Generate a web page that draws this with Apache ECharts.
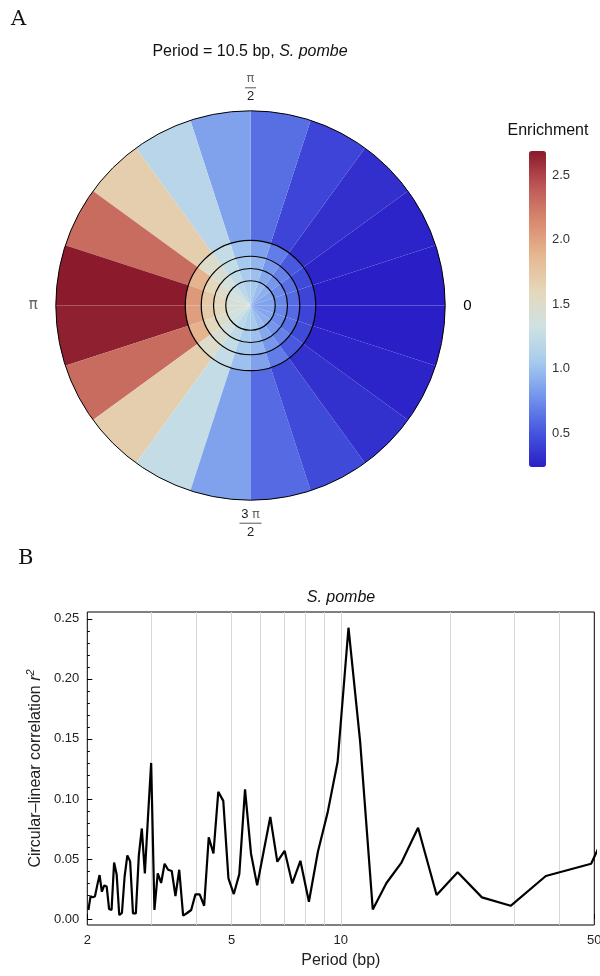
<!DOCTYPE html>
<html>
<head>
<meta charset="utf-8">
<script src="https://cdn.jsdelivr.net/npm/echarts@6/dist/echarts.min.js"></script>
<style>
  html, body { margin: 0; padding: 0; background: #fff; }
  #chart { width: 600px; height: 976px; }
</style>
</head>
<body>
<div id="chart"></div>
<script>
// ---- panel A: enrichment per 18 degree phase bin, counter-clockwise from 0 ----
const phaseBins = ['0-18', '18-36', '36-54', '54-72', '72-90', '90-108', '108-126', '126-144', '144-162', '162-180',
  '180-198', '198-216', '216-234', '234-252', '252-270', '270-288', '288-306', '306-324', '324-342', '342-360'];

// radial bin edges (fraction of outer radius), inner to outer
const ringEdges = [0, 0.127, 0.19, 0.253, 0.335, 1];

const enrichRing1 = [0.85, 0.87, 0.92, 0.98, 1.05, 1.12, 1.2, 1.3, 1.38, 1.42, 1.4, 1.38, 1.3, 1.2, 1.12, 1.05, 0.98, 0.92, 0.87, 0.85];
const enrichRing2 = [0.72, 0.74, 0.8, 0.88, 1.0, 1.08, 1.22, 1.38, 1.5, 1.58, 1.56, 1.5, 1.38, 1.22, 1.08, 1.0, 0.88, 0.8, 0.74, 0.72];
const enrichRing3 = [0.6, 0.62, 0.7, 0.8, 0.95, 1.05, 1.25, 1.45, 1.6, 1.72, 1.7, 1.6, 1.45, 1.25, 1.05, 0.95, 0.8, 0.7, 0.62, 0.6];
const enrichRing4 = [0.42, 0.45, 0.52, 0.68, 0.85, 1.0, 1.25, 1.5, 1.9, 2.05, 2.02, 1.9, 1.5, 1.25, 1.0, 0.85, 0.68, 0.52, 0.45, 0.42];
const enrichOuter = [0.24, 0.26, 0.32, 0.42, 0.62, 0.85, 1.17, 1.68, 2.3, 2.68, 2.66, 2.3, 1.68, 1.25, 0.85, 0.6, 0.45, 0.33, 0.26, 0.24];

const enrichMin = 0.239, enrichMax = 2.686;
const enrichColors = ['#2a1fc6', '#4656df', '#7394ec', '#a7cbee', '#cfe2e3', '#e5d7bb', '#e6b891', '#d98a6e', '#bd5756', '#8a1a2b'];
const barTicks = [0.3, 0.4, 0.5, 0.6, 0.7, 0.8, 0.9, 1.0, 1.1, 1.2, 1.3, 1.4, 1.5, 1.6, 1.7, 1.8, 1.9, 2.0, 2.1, 2.2, 2.3, 2.4, 2.5, 2.6];
const barLabels = [0.5, 1.0, 1.5, 2.0, 2.5];

// ---- panel B: circular-linear correlation vs period ----
const periods = [2.014, 2.042, 2.070, 2.100, 2.130, 2.162, 2.194, 2.227, 2.262, 2.297, 2.333, 2.371, 2.410, 2.450,
  2.492, 2.534, 2.579, 2.625, 2.673, 2.722, 2.774, 2.827, 2.882, 2.940, 3.000, 3.063, 3.128, 3.196, 3.267, 3.341,
  3.419, 3.500, 3.585, 3.675, 3.769, 3.868, 3.973, 4.083, 4.200, 4.324, 4.455, 4.594, 4.742, 4.900, 5.069, 5.250,
  5.444, 5.654, 5.880, 6.125, 6.391, 6.682, 7.000, 7.350, 7.737, 8.167, 8.647, 9.188, 9.800, 10.500, 11.308,
  12.250, 13.364, 14.700, 16.333, 18.375, 21.000, 24.500, 29.400, 36.750, 49.000, 73.500];
const corrR2 = [0.0075, 0.019, 0.018, 0.019, 0.028, 0.0366, 0.0227, 0.028, 0.027, 0.0083, 0.0075, 0.047, 0.037, 0.0033,
  0.005, 0.035, 0.053, 0.048, 0.0047, 0.0047, 0.053, 0.0754, 0.038, 0.085, 0.130, 0.0075, 0.038, 0.030, 0.046, 0.041,
  0.040, 0.019, 0.041, 0.0028, 0.005, 0.0075, 0.0205, 0.0205, 0.011, 0.068, 0.0546, 0.106, 0.0984, 0.0338, 0.0208, 0.0374,
  0.108, 0.0546, 0.028, 0.056, 0.085, 0.0477, 0.0568, 0.0296, 0.0485, 0.0144, 0.056, 0.088, 0.131, 0.2426, 0.1475,
  0.008, 0.030, 0.047, 0.076, 0.020, 0.039, 0.018, 0.011, 0.0358, 0.046, 0.16];
const periodGridLines = [3, 4, 5, 6, 7, 8, 9, 10, 20, 30, 40];
const periodLabels = [2, 5, 10, 50];
const r2Labels = [0, 0.05, 0.1, 0.15, 0.2, 0.25];
const r2Minor = [0, 0.01, 0.02, 0.03, 0.04, 0.05, 0.06, 0.07, 0.08, 0.09, 0.1, 0.11, 0.12, 0.13, 0.14, 0.15, 0.16,
  0.17, 0.18, 0.19, 0.2, 0.21, 0.22, 0.23, 0.24, 0.25];

const FONT = 'Liberation Sans';
const center = [250.5, 305.5];
const outerR = 194.7;

const chart = echarts.init(document.getElementById('chart'));

const rings = [enrichRing1, enrichRing2, enrichRing3, enrichRing4, enrichOuter];
const polarSeries = rings.map((vals, r) => ({
  type: 'bar',
  coordinateSystem: 'polar',
  polarIndex: 0,
  stack: 'rings',
  barCategoryGap: '0%',
  silent: true,
  encode: { radius: 0, angle: 1 },
  itemStyle: { borderWidth: 0 },
  data: vals.map((e, i) => [ringEdges[r + 1] - ringEdges[r], i, e])
}));

const angleLabel = (v) => {
  if (v === 0) return '{z|0}';
  if (v === 90) return '{p|π}\n{bar|}\n{n|2}';
  if (v === 180) return '{pl|π}';
  if (v === 270) return '{t|3 }{p|π}\n{bar2|}\n{n|2}';
  return '';
};

chart.setOption({
  animation: false,
  textStyle: { fontFamily: FONT },
  polar: [
    { center: center, radius: outerR },
    { center: center, radius: outerR }
  ],
  angleAxis: [
    {
      polarIndex: 0, type: 'category', data: phaseBins, startAngle: 0, clockwise: false, boundaryGap: true,
      axisLine: { show: false }, axisTick: { show: false }, axisLabel: { show: false }, splitLine: { show: false }
    },
    {
      polarIndex: 1, type: 'value', min: 0, max: 360, interval: 90, startAngle: 0, clockwise: false, z: 10,
      axisLine: { lineStyle: { color: '#000', width: 1 } },
      axisTick: { show: false }, splitLine: { show: false },
      axisLabel: {
        margin: 7,
        formatter: angleLabel,
        rich: {
          z: { fontSize: 15, color: '#000', padding: [0, 0, 0, 11] },
          pl: { fontSize: 15, color: '#666', fontFamily: 'DejaVu Sans', padding: [0, 11, 0, 0] },
          p: { fontSize: 13, color: '#666', fontFamily: 'DejaVu Sans', lineHeight: 14 },
          t: { fontSize: 13, color: '#222', lineHeight: 14 },
          n: { fontSize: 13, color: '#222', lineHeight: 14 },
          bar: { width: 11, height: 1, lineHeight: 4, backgroundColor: '#555' },
          bar2: { width: 22, height: 1, lineHeight: 4, backgroundColor: '#555' }
        }
      }
    }
  ],
  radiusAxis: [
    {
      polarIndex: 0, type: 'value', min: 0, max: 1, z: 10,
      axisLine: { show: false }, axisLabel: { show: false },
      axisTick: { show: false, customValues: ringEdges.slice(1, 5) },
      splitLine: { show: true, lineStyle: { color: '#000', width: 1.2 } }
    },
    { polarIndex: 1, type: 'value', min: 0, max: 1, show: false }
  ],
  visualMap: {
    type: 'continuous', seriesIndex: [0, 1, 2, 3, 4], dimension: 2,
    min: enrichMin, max: enrichMax, calculable: false, hoverLink: false,
    inRange: { color: enrichColors },
    left: 529, top: 151, itemWidth: 17, itemHeight: 316, padding: 0,
    orient: 'vertical'
  },
  grid: [
    { left: 529, top: 151, width: 17, height: 316, outerBoundsMode: 'none' },
    {
      left: 87.3, right: 5.7, top: 612, bottom: 51, outerBoundsMode: 'none',
      show: true, borderColor: '#000', borderWidth: 1
    }
  ],
  xAxis: [
    { gridIndex: 0, type: 'value', show: false, min: 0, max: 1 },
    {
      gridIndex: 1, type: 'log', logBase: 10, min: 2, max: 50,
      name: 'Period (bp)', nameLocation: 'middle', nameGap: 28,
      nameTextStyle: { fontSize: 16, color: '#222', fontFamily: FONT },
      axisLine: { show: false },
      axisTick: { inside: true, length: 5, customValues: periodLabels, lineStyle: { color: '#000' } },
      axisLabel: { customValues: periodLabels, fontSize: 13, color: '#222', margin: 9, formatter: (v) => String(Math.round(v)) },
      splitLine: { show: false }
    }
  ],
  yAxis: [
    {
      gridIndex: 0, type: 'value', position: 'right', min: enrichMin, max: enrichMax,
      axisLine: { show: false },
      axisTick: { customValues: barTicks, length: 3.5, lineStyle: { color: '#999' } },
      axisLabel: { customValues: barLabels, margin: 6, fontSize: 13, color: '#333', formatter: (v) => v.toFixed(1) },
      splitLine: { show: false }
    },
    {
      gridIndex: 1, type: 'value', position: 'left', min: -0.005, max: 0.2557,
      name: '{a|Circular–linear correlation }{i|r}{s|2}',
      nameLocation: 'middle', nameGap: 42, nameRotate: 90,
      nameTextStyle: {
        rich: {
          a: { fontSize: 16, color: '#222', fontFamily: FONT },
          i: { fontSize: 16, color: '#222', fontFamily: FONT, fontStyle: 'italic' },
          s: { fontSize: 11, color: '#222', fontFamily: FONT, fontStyle: 'italic', verticalAlign: 'top', padding: [0, 0, 8, 0] }
        }
      },
      axisLine: { show: false },
      axisTick: { inside: true, length: 5, customValues: r2Labels, lineStyle: { color: '#000' } },
      axisLabel: { customValues: r2Labels, fontSize: 13, color: '#222', margin: 8, formatter: (v) => v.toFixed(2) },
      splitLine: { show: false }
    },
    {
      gridIndex: 1, type: 'value', position: 'left', offset: 0, min: -0.005, max: 0.2557,
      axisLine: { show: false },
      axisTick: { inside: true, length: 2.5, customValues: r2Minor, lineStyle: { color: '#000' } },
      axisLabel: { show: false },
      splitLine: { show: false }
    }
  ],
  series: [
    ...polarSeries,
    {
      type: 'line', xAxisIndex: 1, yAxisIndex: 1, z: 3,
      data: periods.map((p, i) => [p, corrR2[i]]),
      symbol: 'none', clip: true,
      lineStyle: { color: '#000', width: 2.2 },
      itemStyle: { color: '#000' },
      markLine: {
        z: 1, silent: true, symbol: 'none', animation: false,
        label: { show: false },
        lineStyle: { color: '#d6d6d6', width: 1, type: 'solid' },
        data: periodGridLines.map((v) => ({ xAxis: v }))
      }
    }
  ],
  graphic: [
    { type: 'text', left: 11, top: 9, style: { text: 'A', font: '21px "DejaVu Serif"', fill: '#111' } },
    { type: 'text', left: 18, top: 548, style: { text: 'B', font: '21px "DejaVu Serif"', fill: '#111' } },
    {
      type: 'text', x: 250, y: 52,
      style: {
        text: '{a|Period = 10.5 bp, }{b|S. pombe}', align: 'center', verticalAlign: 'middle',
        rich: {
          a: { fontSize: 16, fontFamily: FONT, fill: '#111' },
          b: { fontSize: 16, fontFamily: FONT, fontStyle: 'italic', fill: '#111' }
        }
      }
    },
    { type: 'text', x: 548, y: 131, style: { text: 'Enrichment', font: '16px "Liberation Sans"', fill: '#111', align: 'center', verticalAlign: 'middle' } },
    { type: 'text', x: 341, y: 598, style: { text: 'S. pombe', font: 'italic 16px "Liberation Sans"', fill: '#111', align: 'center', verticalAlign: 'middle' } }
  ]
});
</script>
</body>
</html>
